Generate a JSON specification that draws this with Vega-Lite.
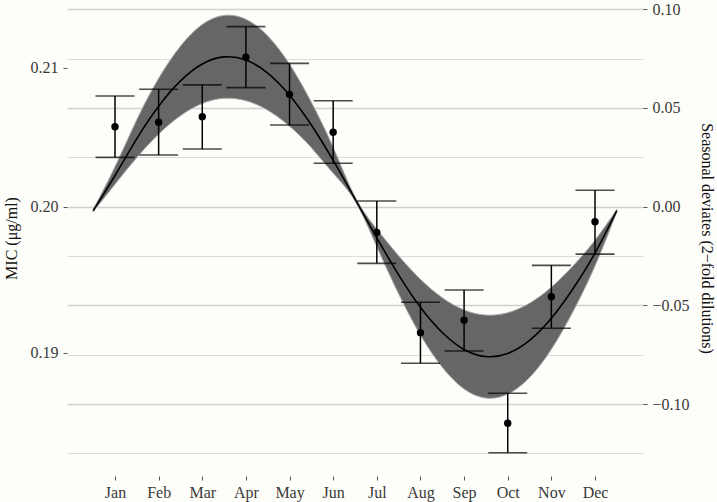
{
  "$schema": "https://vega.github.io/schema/vega-lite/v6.json",
  "width": 576,
  "height": 476,
  "autosize": {"type": "none"},
  "padding": {"left": 67, "top": 0, "right": 74, "bottom": 26},
  "background": "#fdfdf9",
  "config": {
    "view": {"stroke": null},
    "axis": {
      "labelFont": "Liberation Serif",
      "labelFontSize": 16,
      "labelColor": "#3a3a3a",
      "titleFont": "Liberation Serif",
      "titleFontSize": 16,
      "titleFontWeight": "normal",
      "titleColor": "#111111",
      "tickColor": "#555555",
      "tickSize": 4,
      "domain": false
    }
  },
  "datasets": {
    "months": [
      {"month": 1, "dev": 0.0405, "lo": 0.0250, "hi": 0.0561},
      {"month": 2, "dev": 0.0428, "lo": 0.0262, "hi": 0.0595},
      {"month": 3, "dev": 0.0456, "lo": 0.0292, "hi": 0.0617},
      {"month": 4, "dev": 0.0757, "lo": 0.0603, "hi": 0.0912},
      {"month": 5, "dev": 0.0569, "lo": 0.0414, "hi": 0.0726},
      {"month": 6, "dev": 0.0377, "lo": 0.0220, "hi": 0.0537},
      {"month": 7, "dev": -0.0130, "lo": -0.0287, "hi": 0.0029},
      {"month": 8, "dev": -0.0638, "lo": -0.0793, "hi": -0.0484},
      {"month": 9, "dev": -0.0575, "lo": -0.0731, "hi": -0.0422},
      {"month": 10, "dev": -0.1097, "lo": -0.1246, "hi": -0.0945},
      {"month": 11, "dev": -0.0456, "lo": -0.0616, "hi": -0.0297},
      {"month": 12, "dev": -0.0076, "lo": -0.0240, "hi": 0.0083}
    ],
    "fit": [
      {"m": 0.5, "fit": -0.0020, "bandLo": -0.0026, "bandHi": -0.0014},
      {"m": 1.0, "fit": 0.0158, "bandLo": 0.0114, "bandHi": 0.0202},
      {"m": 1.5, "fit": 0.0345, "bandLo": 0.0249, "bandHi": 0.0441},
      {"m": 2.0, "fit": 0.0509, "bandLo": 0.0368, "bandHi": 0.0650},
      {"m": 2.5, "fit": 0.0637, "bandLo": 0.0461, "bandHi": 0.0813},
      {"m": 3.0, "fit": 0.0723, "bandLo": 0.0523, "bandHi": 0.0923},
      {"m": 3.5, "fit": 0.0759, "bandLo": 0.0549, "bandHi": 0.0969},
      {"m": 4.0, "fit": 0.0743, "bandLo": 0.0537, "bandHi": 0.0949},
      {"m": 4.5, "fit": 0.0677, "bandLo": 0.0489, "bandHi": 0.0865},
      {"m": 5.0, "fit": 0.0565, "bandLo": 0.0408, "bandHi": 0.0722},
      {"m": 5.5, "fit": 0.0414, "bandLo": 0.0299, "bandHi": 0.0529},
      {"m": 6.0, "fit": 0.0235, "bandLo": 0.0170, "bandHi": 0.0300},
      {"m": 6.5, "fit": 0.0040, "bandLo": 0.0029, "bandHi": 0.0051},
      {"m": 7.0, "fit": -0.0158, "bandLo": -0.0202, "bandHi": -0.0114},
      {"m": 7.5, "fit": -0.0345, "bandLo": -0.0441, "bandHi": -0.0249},
      {"m": 8.0, "fit": -0.0509, "bandLo": -0.0650, "bandHi": -0.0368},
      {"m": 8.5, "fit": -0.0637, "bandLo": -0.0813, "bandHi": -0.0461},
      {"m": 9.0, "fit": -0.0723, "bandLo": -0.0923, "bandHi": -0.0523},
      {"m": 9.5, "fit": -0.0759, "bandLo": -0.0969, "bandHi": -0.0549},
      {"m": 10.0, "fit": -0.0743, "bandLo": -0.0949, "bandHi": -0.0537},
      {"m": 10.5, "fit": -0.0677, "bandLo": -0.0865, "bandHi": -0.0489},
      {"m": 11.0, "fit": -0.0565, "bandLo": -0.0722, "bandHi": -0.0408},
      {"m": 11.5, "fit": -0.0414, "bandLo": -0.0529, "bandHi": -0.0299},
      {"m": 12.0, "fit": -0.0235, "bandLo": -0.0300, "bandHi": -0.0170},
      {"m": 12.5, "fit": -0.0020, "bandLo": -0.0026, "bandHi": -0.0014}
    ],
    "micTicks": [
      {"mic": 0.19}, {"mic": 0.20}, {"mic": 0.21}
    ]
  },
  "layer": [
    {
      "data": {"name": "fit"},
      "mark": {"type": "area", "interpolate": "natural", "color": "#666666", "stroke": "#a8a8a8", "strokeWidth": 1},
      "encoding": {
        "x": {"field": "m", "type": "quantitative", "scale": {"domain": [-0.1, 13.1], "nice": false, "zero": false},
          "axis": {"values": [1,2,3,4,5,6,7,8,9,10,11,12], "title": null, "grid": false, "labelPadding": 4,
            "labelExpr": "['Jan','Feb','Mar','Apr','May','Jun','Jul','Aug','Sep','Oct','Nov','Dec'][datum.value-1]"}},
        "y": {"field": "bandLo", "type": "quantitative", "scale": {"domain": [-0.1364, 0.1047], "nice": false, "zero": false},
          "axis": {
            "orient": "right",
            "title": "Seasonal deviates (2−fold dilutions)",
            "titlePadding": 9,
            "values": [-0.125, -0.1, -0.075, -0.05, -0.025, 0, 0.025, 0.05, 0.075, 0.1],
            "format": ".2f",
            "labelPadding": 5,
            "labelExpr": "abs(datum.value*20 - round(datum.value*20)) < 0.001 ? datum.label : ''",
            "tickOpacity": {"condition": {"test": "abs(datum.value*20 - round(datum.value*20)) < 0.001", "value": 1}, "value": 0},
            "grid": true,
            "gridColor": {"condition": {"test": "abs(datum.value*20 - round(datum.value*20)) < 0.001", "value": "#cfcfcf"}, "value": "#dcdcdc"},
            "gridWidth": {"condition": {"test": "abs(datum.value*20 - round(datum.value*20)) < 0.001", "value": 1.4}, "value": 1.1}
          }},
        "y2": {"field": "bandHi"}
      }
    },
    {
      "data": {"name": "fit"},
      "mark": {"type": "line", "interpolate": "natural", "color": "#000000", "strokeWidth": 1.6},
      "encoding": {
        "x": {"field": "m", "type": "quantitative"},
        "y": {"field": "fit", "type": "quantitative", "scale": {"domain": [-0.1364, 0.1047], "nice": false, "zero": false}, "axis": null}
      }
    },
    {
      "data": {"name": "months"},
      "mark": {"type": "rule", "color": "#000000", "strokeWidth": 1.5},
      "encoding": {
        "x": {"field": "month", "type": "quantitative"},
        "y": {"field": "lo", "type": "quantitative", "scale": {"domain": [-0.1364, 0.1047], "nice": false, "zero": false}, "axis": null},
        "y2": {"field": "hi"}
      }
    },
    {
      "data": {"name": "months"},
      "mark": {"type": "tick", "orient": "horizontal", "color": "#000000", "size": 39, "thickness": 1.6},
      "encoding": {
        "x": {"field": "month", "type": "quantitative"},
        "y": {"field": "lo", "type": "quantitative", "scale": {"domain": [-0.1364, 0.1047], "nice": false, "zero": false}, "axis": null}
      }
    },
    {
      "data": {"name": "months"},
      "mark": {"type": "tick", "orient": "horizontal", "color": "#000000", "size": 39, "thickness": 1.6},
      "encoding": {
        "x": {"field": "month", "type": "quantitative"},
        "y": {"field": "hi", "type": "quantitative", "scale": {"domain": [-0.1364, 0.1047], "nice": false, "zero": false}, "axis": null}
      }
    },
    {
      "data": {"name": "months"},
      "mark": {"type": "point", "filled": true, "color": "#000000", "size": 55, "opacity": 1},
      "encoding": {
        "x": {"field": "month", "type": "quantitative"},
        "y": {"field": "dev", "type": "quantitative", "scale": {"domain": [-0.1364, 0.1047], "nice": false, "zero": false}, "axis": null}
      }
    },
    {
      "data": {"name": "micTicks"},
      "mark": {"type": "point", "opacity": 0},
      "encoding": {
        "y": {"field": "mic", "type": "quantitative",
          "scale": {"type": "log", "domain": [0.181956, 0.215054], "nice": false, "zero": false},
          "axis": {"orient": "left", "title": "MIC (μg/ml)", "values": [0.19, 0.2, 0.21], "format": ".2f", "grid": false, "labelPadding": 5, "titlePadding": 11}}
      }
    }
  ],
  "resolve": {"scale": {"y": "independent"}}
}
